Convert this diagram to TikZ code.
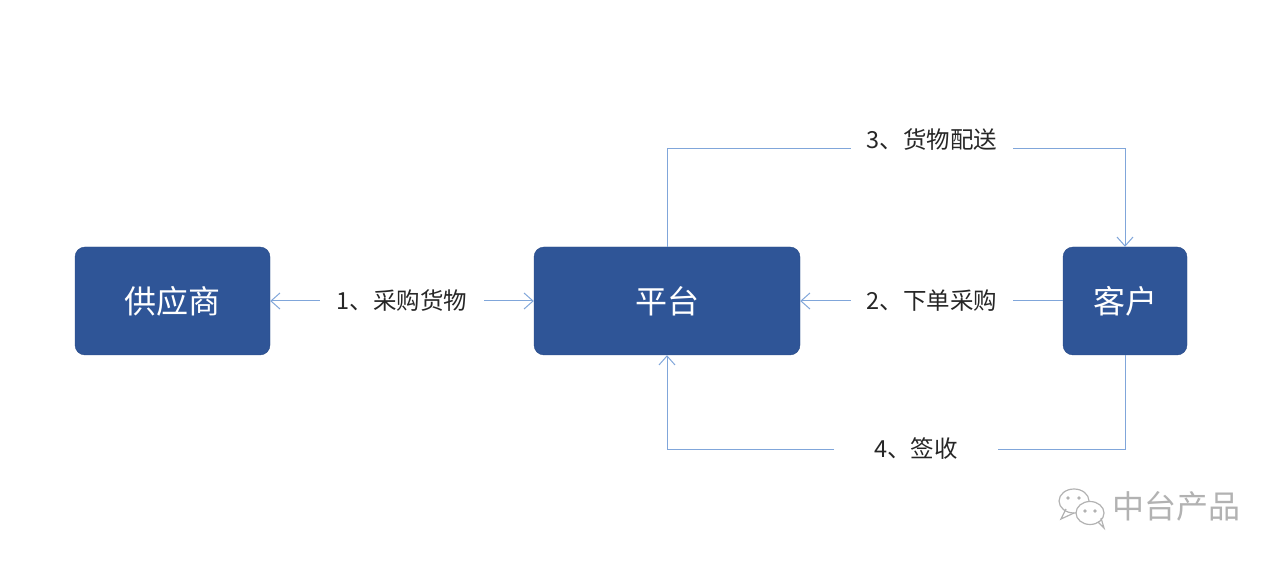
\documentclass[tikz,border=0pt]{standalone}
\usepackage{fontspec}
\setmainfont{Noto Sans CJK SC}
\usetikzlibrary{arrows.meta,positioning}
\definecolor{boxblue}{RGB}{47,85,151}
\definecolor{boxline}{RGB}{40,74,134}
\definecolor{flowblue}{RGB}{128,166,218}
\definecolor{markgray}{RGB}{178,178,178}

\begin{document}
\begin{tikzpicture}[x=1pt,y=-1pt,
  box/.style={draw=boxline,fill=boxblue,rounded corners=10pt,text=white,
    font=\fontsize{32}{38}\selectfont,minimum height=108pt,inner sep=0pt},
  lab/.style={font=\fontsize{23.5}{28}\selectfont,inner ysep=0pt,text=black!85},
  link/.style={draw=flowblue,line width=1pt},
  flow/.style={link,-{Straight Barb[length=9pt,width=16pt]}}]
\useasboundingbox (0,0) rectangle (1280,561);

\node[box,minimum width=195pt] (gys) at (172.5,301) {供应商};
\node[box,minimum width=266pt] (pt) at (667,301) {平台};
\node[box,minimum width=124pt] (kh) at (1125,301) {客户};

\node[lab,inner xsep=17pt] (l1) at (402,301) {1、采购货物};
\node[lab,inner xsep=16pt] (l2) at (932,301) {2、下单采购};
\node[lab,inner xsep=16pt] (l3) at (932,140) {3、货物配送};
\node[lab,inner xsep=40pt] (l4) at (916,449) {4、签收};

\draw[flow] (l1) -- (gys);
\draw[flow] (l1) -- (pt);
\draw[link] (kh) -- (l2);
\draw[flow] (l2) -- (pt);
\draw[link] (pt.north) |- ([yshift=-9pt]l3.west);
\draw[flow] ([yshift=-9pt]l3.east) -| (kh.north);
\draw[link] (kh.south) |- (l4.east);
\draw[flow] (l4.west) -| (pt.south);

\draw[markgray,line width=1.2pt] (1066,509) -- (1061,519) -- (1074,513);
\draw[markgray,line width=1.2pt] (1074,501) ellipse (15 and 12);
\draw[markgray,line width=1.2pt,fill=white] (1090,513) ellipse (14 and 11.5);
\draw[markgray,line width=1.2pt] (1098,522) -- (1104,528) -- (1101,518);
\foreach \px/\py in {1068/498,1079/498,1085/511,1095/511}
  \fill[markgray] (\px,\py) circle (1.8);
\node[text=markgray,font=\fontsize{32}{38}\selectfont] (zt) at (1176,506) {中台产品};
\end{tikzpicture}
\end{document}
